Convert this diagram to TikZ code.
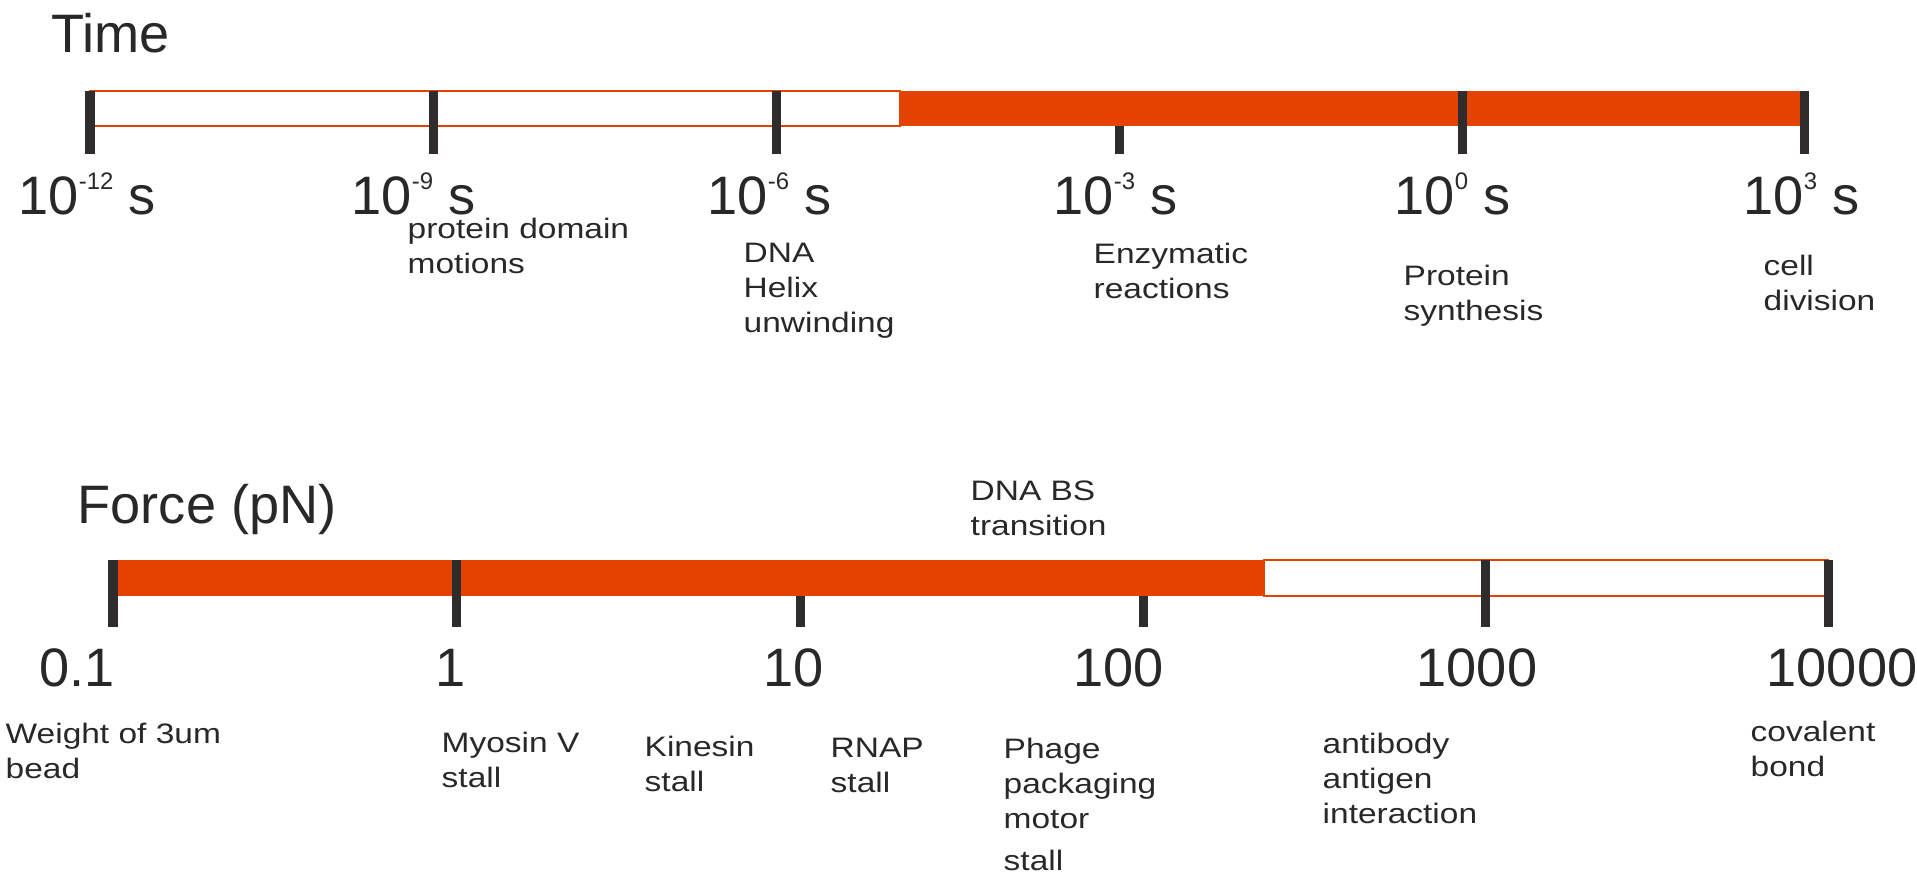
\documentclass[tikz,border=0pt]{standalone}
\usepackage{fontspec}
\setmainfont{Liberation Sans}
\newfontfamily\notefont{Liberation Sans}[FakeStretch=1.19]
\usepackage{xcolor}
\usepackage{tikz}
\usetikzlibrary{positioning}
\definecolor{barorange}{RGB}{229,65,0}
\definecolor{tickgray}{RGB}{46,44,44}
\definecolor{textgray}{RGB}{40,40,40}
\newcommand{\tenpow}[1]{10\raisebox{7pt}{\fontsize{6.8pt}{7pt}\selectfont #1}\ s}
\tikzset{
  tickmark/.style={draw=tickgray, line width=0.09cm},
  barfill/.style={fill=barorange, draw=none},
  barline/.style={draw=barorange, line width=0.6pt},
  axistitle/.style={anchor=base west, inner sep=0pt, text=textgray, font=\fontsize{15.4pt}{18pt}\selectfont},
  scalelabel/.style={anchor=base west, inner sep=0pt, text=textgray, font=\fontsize{15.4pt}{18pt}\selectfont},
  % placed by the baseline of the last line
  notelabel/.style={anchor=base west, inner sep=0pt, align=left, text=textgray, font=\notefont\fontsize{8pt}{9.9pt}\selectfont}
}

\begin{document}
\begin{tikzpicture}[x=0.01cm, y=-0.01cm]
        \useasboundingbox (0,0) rectangle (1917,878);

        % Time scale
        \node[axistitle] (timetitle) at (51,52) {Time};

        \draw[tickmark] (1119,126) -- (1119,154);
        \draw[barline] (90,91) rectangle (900,126);
        \fill[barfill] (900,91) rectangle (1804,126);
        \draw[tickmark] (90,91) -- (90,154);
        \draw[tickmark] (433,91) -- (433,154);
        \draw[tickmark] (776,91) -- (776,154);
        \draw[tickmark] (1462,91) -- (1462,154);
        \draw[tickmark] (1804,91) -- (1804,154);

        \node[scalelabel] (t12) at (18,214) {\tenpow{-12}};
        \node[scalelabel] (t9) at (351,214) {\tenpow{-9}};
        \node[scalelabel] (t6) at (707,214) {\tenpow{-6}};
        \node[scalelabel] (t3) at (1053,214) {\tenpow{-3}};
        \node[scalelabel] (t0) at (1394,214) {\tenpow{0}};
        \node[scalelabel] (tp3) at (1743,214) {\tenpow{3}};

        % Time examples
        \node[notelabel] (protein) at (407,273) {protein domain\\motions};
        \node[notelabel] (helix) at (743,332) {DNA\\Helix\\unwinding};
        \node[notelabel] (enzyme) at (1093,298) {Enzymatic\\reactions};
        \node[notelabel] (synthesis) at (1403,320) {Protein\\synthesis};
        \node[notelabel] (division) at (1763,310) {cell\\division};

        % Force scale
        \node[axistitle] (forcetitle) at (77,523) {Force (pN)};

        \draw[tickmark] (800,596) -- (800,627);
        \draw[tickmark] (1143,596) -- (1143,627);
        \fill[barfill] (113,560) rectangle (1264,596);
        \draw[barline] (1264,560) rectangle (1828,596);
        \draw[tickmark] (113,560) -- (113,627);
        \draw[tickmark] (456,560) -- (456,627);
        \draw[tickmark] (1485,560) -- (1485,627);
        \draw[tickmark] (1828,560) -- (1828,627);

        \node[scalelabel] (f01) at (39,686) {0.1};
        \node[scalelabel] (f1) at (435,686) {1};
        \node[scalelabel] (f10) at (763,686) {10};
        \node[scalelabel] (f100) at (1073,686) {100};
        \node[scalelabel] (f1000) at (1416,686) {1000};
        \node[scalelabel] (f10000) at (1766,686) {10000};

        % Force examples
        \node[notelabel] (bstrans) at (970,535) {DNA BS\\transition};
        \node[notelabel] (bead) at (5,778) {Weight of 3um\\bead};
        \node[notelabel] (myosin) at (441,787) {Myosin V\\stall};
        \node[notelabel] (kinesin) at (644,791) {Kinesin\\stall};
        \node[notelabel] (rnap) at (830,792) {RNAP\\stall};
        \node[notelabel] (phage) at (1003,870) {Phage\\packaging\\motor\\[2pt]stall};
        \node[notelabel] (antibody) at (1322,823) {antibody\\antigen\\interaction};
        \node[notelabel] (covalent) at (1750,776) {covalent\\bond};
\end{tikzpicture}
\end{document}
